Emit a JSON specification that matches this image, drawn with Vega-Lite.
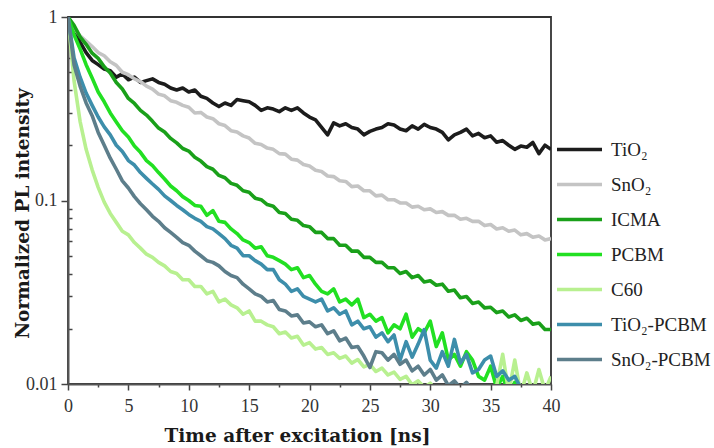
{
"$schema":"https://vega.github.io/schema/vega-lite/v6.json",
"width":483,"height":367,
"autosize":{"type":"none"},
"padding":{"left":68,"top":17,"right":163,"bottom":64},
"config":{"view":{"stroke":"#333","strokeWidth":1.8},"font":"Liberation Serif"},
"datasets":{"d":[
{"s":"TiO₂","t":0,"v":1},{"s":"TiO₂","t":0.5,"v":0.86},{"s":"TiO₂","t":1,"v":0.73},{"s":"TiO₂","t":1.5,"v":0.64},{"s":"TiO₂","t":2,"v":0.58},{"s":"TiO₂","t":2.5,"v":0.55},{"s":"TiO₂","t":3,"v":0.52},{"s":"TiO₂","t":3.5,"v":0.51},{"s":"TiO₂","t":4,"v":0.47},{"s":"TiO₂","t":4.5,"v":0.49},
{"s":"TiO₂","t":5,"v":0.455},{"s":"TiO₂","t":5.5,"v":0.47},{"s":"TiO₂","t":6,"v":0.44},{"s":"TiO₂","t":6.5,"v":0.45},{"s":"TiO₂","t":7,"v":0.46},{"s":"TiO₂","t":7.5,"v":0.44},{"s":"TiO₂","t":8,"v":0.43},{"s":"TiO₂","t":8.5,"v":0.41},{"s":"TiO₂","t":9,"v":0.40},{"s":"TiO₂","t":9.5,"v":0.41},
{"s":"TiO₂","t":10,"v":0.39},{"s":"TiO₂","t":10.5,"v":0.40},{"s":"TiO₂","t":11,"v":0.37},{"s":"TiO₂","t":11.5,"v":0.36},{"s":"TiO₂","t":12,"v":0.34},{"s":"TiO₂","t":12.5,"v":0.325},{"s":"TiO₂","t":13,"v":0.34},{"s":"TiO₂","t":13.5,"v":0.33},{"s":"TiO₂","t":14,"v":0.355},{"s":"TiO₂","t":14.5,"v":0.35},
{"s":"TiO₂","t":15,"v":0.345},{"s":"TiO₂","t":15.5,"v":0.33},{"s":"TiO₂","t":16,"v":0.31},{"s":"TiO₂","t":16.5,"v":0.32},{"s":"TiO₂","t":17,"v":0.315},{"s":"TiO₂","t":17.5,"v":0.305},{"s":"TiO₂","t":18,"v":0.32},{"s":"TiO₂","t":18.5,"v":0.31},{"s":"TiO₂","t":19,"v":0.32},{"s":"TiO₂","t":19.5,"v":0.30},
{"s":"TiO₂","t":20,"v":0.285},{"s":"TiO₂","t":20.5,"v":0.275},{"s":"TiO₂","t":21,"v":0.25},{"s":"TiO₂","t":21.5,"v":0.228},{"s":"TiO₂","t":22,"v":0.265},{"s":"TiO₂","t":22.5,"v":0.255},{"s":"TiO₂","t":23,"v":0.262},{"s":"TiO₂","t":23.5,"v":0.25},{"s":"TiO₂","t":24,"v":0.245},{"s":"TiO₂","t":24.5,"v":0.228},
{"s":"TiO₂","t":25,"v":0.238},{"s":"TiO₂","t":25.5,"v":0.245},{"s":"TiO₂","t":26,"v":0.25},{"s":"TiO₂","t":26.5,"v":0.262},{"s":"TiO₂","t":27,"v":0.258},{"s":"TiO₂","t":27.5,"v":0.245},{"s":"TiO₂","t":28,"v":0.24},{"s":"TiO₂","t":28.5,"v":0.255},{"s":"TiO₂","t":29,"v":0.245},{"s":"TiO₂","t":29.5,"v":0.26},
{"s":"TiO₂","t":30,"v":0.25},{"s":"TiO₂","t":30.5,"v":0.245},{"s":"TiO₂","t":31,"v":0.235},{"s":"TiO₂","t":31.5,"v":0.214},{"s":"TiO₂","t":32,"v":0.228},{"s":"TiO₂","t":32.5,"v":0.235},{"s":"TiO₂","t":33,"v":0.245},{"s":"TiO₂","t":33.5,"v":0.225},{"s":"TiO₂","t":34,"v":0.232},{"s":"TiO₂","t":34.5,"v":0.22},
{"s":"TiO₂","t":35,"v":0.225},{"s":"TiO₂","t":35.5,"v":0.208},{"s":"TiO₂","t":36,"v":0.212},{"s":"TiO₂","t":36.5,"v":0.2},{"s":"TiO₂","t":37,"v":0.19},{"s":"TiO₂","t":37.5,"v":0.198},{"s":"TiO₂","t":38,"v":0.195},{"s":"TiO₂","t":38.5,"v":0.207},{"s":"TiO₂","t":39,"v":0.18},{"s":"TiO₂","t":39.5,"v":0.2},
{"s":"TiO₂","t":40,"v":0.19},
{"s":"SnO₂","t":0,"v":1},{"s":"SnO₂","t":0.5,"v":0.87},{"s":"SnO₂","t":1,"v":0.79},{"s":"SnO₂","t":1.5,"v":0.74},{"s":"SnO₂","t":2,"v":0.69},{"s":"SnO₂","t":2.5,"v":0.64},{"s":"SnO₂","t":3,"v":0.615},{"s":"SnO₂","t":3.5,"v":0.57},{"s":"SnO₂","t":4,"v":0.545},{"s":"SnO₂","t":4.5,"v":0.50},
{"s":"SnO₂","t":5,"v":0.485},{"s":"SnO₂","t":5.5,"v":0.46},{"s":"SnO₂","t":6,"v":0.445},{"s":"SnO₂","t":6.5,"v":0.42},{"s":"SnO₂","t":7,"v":0.405},{"s":"SnO₂","t":7.5,"v":0.38},{"s":"SnO₂","t":8,"v":0.372},{"s":"SnO₂","t":8.5,"v":0.35},{"s":"SnO₂","t":9,"v":0.343},{"s":"SnO₂","t":9.5,"v":0.33},
{"s":"SnO₂","t":10,"v":0.322},{"s":"SnO₂","t":10.5,"v":0.30},{"s":"SnO₂","t":11,"v":0.302},{"s":"SnO₂","t":11.5,"v":0.285},{"s":"SnO₂","t":12,"v":0.279},{"s":"SnO₂","t":12.5,"v":0.262},{"s":"SnO₂","t":13,"v":0.256},{"s":"SnO₂","t":13.5,"v":0.24},{"s":"SnO₂","t":14,"v":0.236},{"s":"SnO₂","t":14.5,"v":0.225},
{"s":"SnO₂","t":15,"v":0.219},{"s":"SnO₂","t":15.5,"v":0.205},{"s":"SnO₂","t":16,"v":0.202},{"s":"SnO₂","t":16.5,"v":0.193},{"s":"SnO₂","t":17,"v":0.19},{"s":"SnO₂","t":17.5,"v":0.18},{"s":"SnO₂","t":18,"v":0.179},{"s":"SnO₂","t":18.5,"v":0.168},{"s":"SnO₂","t":19,"v":0.166},{"s":"SnO₂","t":19.5,"v":0.157},
{"s":"SnO₂","t":20,"v":0.154},{"s":"SnO₂","t":20.5,"v":0.146},{"s":"SnO₂","t":21,"v":0.144},{"s":"SnO₂","t":21.5,"v":0.136},{"s":"SnO₂","t":22,"v":0.135},{"s":"SnO₂","t":22.5,"v":0.128},{"s":"SnO₂","t":23,"v":0.127},{"s":"SnO₂","t":23.5,"v":0.119},{"s":"SnO₂","t":24,"v":0.12},{"s":"SnO₂","t":24.5,"v":0.113},
{"s":"SnO₂","t":25,"v":0.113},{"s":"SnO₂","t":25.5,"v":0.106},{"s":"SnO₂","t":26,"v":0.107},{"s":"SnO₂","t":26.5,"v":0.101},{"s":"SnO₂","t":27,"v":0.101},{"s":"SnO₂","t":27.5,"v":0.097},{"s":"SnO₂","t":28,"v":0.097},{"s":"SnO₂","t":28.5,"v":0.092},{"s":"SnO₂","t":29,"v":0.093},{"s":"SnO₂","t":29.5,"v":0.089},
{"s":"SnO₂","t":30,"v":0.09},{"s":"SnO₂","t":30.5,"v":0.086},{"s":"SnO₂","t":31,"v":0.087},{"s":"SnO₂","t":31.5,"v":0.083},{"s":"SnO₂","t":32,"v":0.083},{"s":"SnO₂","t":32.5,"v":0.079},{"s":"SnO₂","t":33,"v":0.08},{"s":"SnO₂","t":33.5,"v":0.077},{"s":"SnO₂","t":34,"v":0.077},{"s":"SnO₂","t":34.5,"v":0.073},
{"s":"SnO₂","t":35,"v":0.074},{"s":"SnO₂","t":35.5,"v":0.07},{"s":"SnO₂","t":36,"v":0.071},{"s":"SnO₂","t":36.5,"v":0.068},{"s":"SnO₂","t":37,"v":0.069},{"s":"SnO₂","t":37.5,"v":0.065},{"s":"SnO₂","t":38,"v":0.066},{"s":"SnO₂","t":38.5,"v":0.063},{"s":"SnO₂","t":39,"v":0.064},{"s":"SnO₂","t":39.5,"v":0.061},
{"s":"SnO₂","t":40,"v":0.062},
{"s":"ICMA","t":0,"v":1},{"s":"ICMA","t":0.5,"v":0.9},{"s":"ICMA","t":1,"v":0.78},{"s":"ICMA","t":1.5,"v":0.71},{"s":"ICMA","t":2,"v":0.635},{"s":"ICMA","t":2.5,"v":0.595},{"s":"ICMA","t":3,"v":0.535},{"s":"ICMA","t":3.5,"v":0.495},{"s":"ICMA","t":4,"v":0.44},{"s":"ICMA","t":4.5,"v":0.405},
{"s":"ICMA","t":5,"v":0.36},{"s":"ICMA","t":5.5,"v":0.338},{"s":"ICMA","t":6,"v":0.31},{"s":"ICMA","t":6.5,"v":0.292},{"s":"ICMA","t":7,"v":0.27},{"s":"ICMA","t":7.5,"v":0.248},{"s":"ICMA","t":8,"v":0.236},{"s":"ICMA","t":8.5,"v":0.218},{"s":"ICMA","t":9,"v":0.206},{"s":"ICMA","t":9.5,"v":0.192},
{"s":"ICMA","t":10,"v":0.186},{"s":"ICMA","t":10.5,"v":0.172},{"s":"ICMA","t":11,"v":0.164},{"s":"ICMA","t":11.5,"v":0.153},{"s":"ICMA","t":12,"v":0.148},{"s":"ICMA","t":12.5,"v":0.137},{"s":"ICMA","t":13,"v":0.133},{"s":"ICMA","t":13.5,"v":0.124},{"s":"ICMA","t":14,"v":0.121},{"s":"ICMA","t":14.5,"v":0.113},
{"s":"ICMA","t":15,"v":0.111},{"s":"ICMA","t":15.5,"v":0.103},{"s":"ICMA","t":16,"v":0.101},{"s":"ICMA","t":16.5,"v":0.095},{"s":"ICMA","t":17,"v":0.093},{"s":"ICMA","t":17.5,"v":0.086},{"s":"ICMA","t":18,"v":0.085},{"s":"ICMA","t":18.5,"v":0.079},{"s":"ICMA","t":19,"v":0.078},{"s":"ICMA","t":19.5,"v":0.073},
{"s":"ICMA","t":20,"v":0.072},{"s":"ICMA","t":20.5,"v":0.067},{"s":"ICMA","t":21,"v":0.067},{"s":"ICMA","t":21.5,"v":0.062},{"s":"ICMA","t":22,"v":0.062},{"s":"ICMA","t":22.5,"v":0.057},{"s":"ICMA","t":23,"v":0.057},{"s":"ICMA","t":23.5,"v":0.053},{"s":"ICMA","t":24,"v":0.053},{"s":"ICMA","t":24.5,"v":0.049},
{"s":"ICMA","t":25,"v":0.049},{"s":"ICMA","t":25.5,"v":0.046},{"s":"ICMA","t":26,"v":0.046},{"s":"ICMA","t":26.5,"v":0.043},{"s":"ICMA","t":27,"v":0.043},{"s":"ICMA","t":27.5,"v":0.04},{"s":"ICMA","t":28,"v":0.041},{"s":"ICMA","t":28.5,"v":0.038},{"s":"ICMA","t":29,"v":0.039},{"s":"ICMA","t":29.5,"v":0.036},
{"s":"ICMA","t":30,"v":0.0365},{"s":"ICMA","t":30.5,"v":0.0345},{"s":"ICMA","t":31,"v":0.035},{"s":"ICMA","t":31.5,"v":0.032},{"s":"ICMA","t":32,"v":0.0325},{"s":"ICMA","t":32.5,"v":0.0295},{"s":"ICMA","t":33,"v":0.03},{"s":"ICMA","t":33.5,"v":0.0275},{"s":"ICMA","t":34,"v":0.028},{"s":"ICMA","t":34.5,"v":0.026},
{"s":"ICMA","t":35,"v":0.0262},{"s":"ICMA","t":35.5,"v":0.0245},{"s":"ICMA","t":36,"v":0.025},{"s":"ICMA","t":36.5,"v":0.0232},{"s":"ICMA","t":37,"v":0.0238},{"s":"ICMA","t":37.5,"v":0.0222},{"s":"ICMA","t":38,"v":0.0228},{"s":"ICMA","t":38.5,"v":0.0212},{"s":"ICMA","t":39,"v":0.0215},{"s":"ICMA","t":39.5,"v":0.0198},
{"s":"ICMA","t":40,"v":0.0198},
{"s":"PCBM","t":0,"v":1},{"s":"PCBM","t":0.5,"v":0.8},{"s":"PCBM","t":1,"v":0.67},{"s":"PCBM","t":1.5,"v":0.55},{"s":"PCBM","t":2,"v":0.465},{"s":"PCBM","t":2.5,"v":0.39},{"s":"PCBM","t":3,"v":0.345},{"s":"PCBM","t":3.5,"v":0.3},{"s":"PCBM","t":4,"v":0.268},{"s":"PCBM","t":4.5,"v":0.24},
{"s":"PCBM","t":5,"v":0.222},{"s":"PCBM","t":5.5,"v":0.198},{"s":"PCBM","t":6,"v":0.183},{"s":"PCBM","t":6.5,"v":0.165},{"s":"PCBM","t":7,"v":0.155},{"s":"PCBM","t":7.5,"v":0.142},{"s":"PCBM","t":8,"v":0.131},{"s":"PCBM","t":8.5,"v":0.12},{"s":"PCBM","t":9,"v":0.113},{"s":"PCBM","t":9.5,"v":0.105},
{"s":"PCBM","t":10,"v":0.1},{"s":"PCBM","t":10.5,"v":0.094},{"s":"PCBM","t":11,"v":0.093},{"s":"PCBM","t":11.5,"v":0.083},{"s":"PCBM","t":12,"v":0.088},{"s":"PCBM","t":12.5,"v":0.077},{"s":"PCBM","t":13,"v":0.076},{"s":"PCBM","t":13.5,"v":0.07},{"s":"PCBM","t":14,"v":0.066},{"s":"PCBM","t":14.5,"v":0.061},
{"s":"PCBM","t":15,"v":0.059},{"s":"PCBM","t":15.5,"v":0.055},{"s":"PCBM","t":16,"v":0.056},{"s":"PCBM","t":16.5,"v":0.05},{"s":"PCBM","t":17,"v":0.049},{"s":"PCBM","t":17.5,"v":0.047},{"s":"PCBM","t":18,"v":0.045},{"s":"PCBM","t":18.5,"v":0.042},{"s":"PCBM","t":19,"v":0.043},{"s":"PCBM","t":19.5,"v":0.038},
{"s":"PCBM","t":20,"v":0.039},{"s":"PCBM","t":20.5,"v":0.035},{"s":"PCBM","t":21,"v":0.032},{"s":"PCBM","t":21.5,"v":0.031},{"s":"PCBM","t":22,"v":0.033},{"s":"PCBM","t":22.5,"v":0.028},{"s":"PCBM","t":23,"v":0.029},{"s":"PCBM","t":23.5,"v":0.027},{"s":"PCBM","t":24,"v":0.029},{"s":"PCBM","t":24.5,"v":0.023},
{"s":"PCBM","t":25,"v":0.024},{"s":"PCBM","t":25.5,"v":0.022},{"s":"PCBM","t":26,"v":0.023},{"s":"PCBM","t":26.5,"v":0.019},{"s":"PCBM","t":27,"v":0.021},{"s":"PCBM","t":27.5,"v":0.02},{"s":"PCBM","t":28,"v":0.024},{"s":"PCBM","t":28.5,"v":0.018},{"s":"PCBM","t":29,"v":0.02},{"s":"PCBM","t":29.5,"v":0.019},
{"s":"PCBM","t":30,"v":0.022},{"s":"PCBM","t":30.5,"v":0.016},{"s":"PCBM","t":31,"v":0.019},{"s":"PCBM","t":31.5,"v":0.0135},{"s":"PCBM","t":32,"v":0.0145},{"s":"PCBM","t":32.5,"v":0.0125},{"s":"PCBM","t":33,"v":0.015},{"s":"PCBM","t":33.5,"v":0.0135},{"s":"PCBM","t":34,"v":0.011},{"s":"PCBM","t":34.5,"v":0.0105},
{"s":"PCBM","t":35,"v":0.0125},{"s":"PCBM","t":35.5,"v":0.0095},{"s":"PCBM","t":36,"v":0.011},{"s":"PCBM","t":36.5,"v":0.0088},{"s":"PCBM","t":37,"v":0.0102},{"s":"PCBM","t":37.5,"v":0.0085},{"s":"PCBM","t":38,"v":0.0082},{"s":"PCBM","t":38.5,"v":0.008},{"s":"PCBM","t":39,"v":0.0078},{"s":"PCBM","t":39.5,"v":0.0076},
{"s":"PCBM","t":40,"v":0.0074},
{"s":"C60","t":0,"v":1},{"s":"C60","t":0.5,"v":0.45},{"s":"C60","t":1,"v":0.27},{"s":"C60","t":1.5,"v":0.19},{"s":"C60","t":2,"v":0.147},{"s":"C60","t":2.5,"v":0.118},{"s":"C60","t":3,"v":0.098},{"s":"C60","t":3.5,"v":0.085},{"s":"C60","t":4,"v":0.076},{"s":"C60","t":4.5,"v":0.068},
{"s":"C60","t":5,"v":0.065},{"s":"C60","t":5.5,"v":0.059},{"s":"C60","t":6,"v":0.055},{"s":"C60","t":6.5,"v":0.051},{"s":"C60","t":7,"v":0.049},{"s":"C60","t":7.5,"v":0.046},{"s":"C60","t":8,"v":0.044},{"s":"C60","t":8.5,"v":0.041},{"s":"C60","t":9,"v":0.04},{"s":"C60","t":9.5,"v":0.037},
{"s":"C60","t":10,"v":0.037},{"s":"C60","t":10.5,"v":0.034},{"s":"C60","t":11,"v":0.034},{"s":"C60","t":11.5,"v":0.031},{"s":"C60","t":12,"v":0.032},{"s":"C60","t":12.5,"v":0.028},{"s":"C60","t":13,"v":0.029},{"s":"C60","t":13.5,"v":0.027},{"s":"C60","t":14,"v":0.026},{"s":"C60","t":14.5,"v":0.024},
{"s":"C60","t":15,"v":0.025},{"s":"C60","t":15.5,"v":0.022},{"s":"C60","t":16,"v":0.022},{"s":"C60","t":16.5,"v":0.021},{"s":"C60","t":17,"v":0.0205},{"s":"C60","t":17.5,"v":0.0188},{"s":"C60","t":18,"v":0.0192},{"s":"C60","t":18.5,"v":0.0178},{"s":"C60","t":19,"v":0.0182},{"s":"C60","t":19.5,"v":0.0163},
{"s":"C60","t":20,"v":0.0168},{"s":"C60","t":20.5,"v":0.0155},{"s":"C60","t":21,"v":0.0158},{"s":"C60","t":21.5,"v":0.0145},{"s":"C60","t":22,"v":0.0148},{"s":"C60","t":22.5,"v":0.0138},{"s":"C60","t":23,"v":0.0142},{"s":"C60","t":23.5,"v":0.013},{"s":"C60","t":24,"v":0.0136},{"s":"C60","t":24.5,"v":0.0124},
{"s":"C60","t":25,"v":0.0128},{"s":"C60","t":25.5,"v":0.0117},{"s":"C60","t":26,"v":0.0122},{"s":"C60","t":26.5,"v":0.0112},{"s":"C60","t":27,"v":0.0116},{"s":"C60","t":27.5,"v":0.0106},{"s":"C60","t":28,"v":0.011},{"s":"C60","t":28.5,"v":0.0099},{"s":"C60","t":29,"v":0.0104},{"s":"C60","t":29.5,"v":0.0096},
{"s":"C60","t":30,"v":0.0101},{"s":"C60","t":30.5,"v":0.0092},{"s":"C60","t":31,"v":0.0097},{"s":"C60","t":31.5,"v":0.009},{"s":"C60","t":32,"v":0.0094},{"s":"C60","t":32.5,"v":0.0088},{"s":"C60","t":33,"v":0.0092},{"s":"C60","t":33.5,"v":0.0088},{"s":"C60","t":34,"v":0.009},{"s":"C60","t":34.5,"v":0.0086},
{"s":"C60","t":35,"v":0.0095},{"s":"C60","t":35.5,"v":0.0098},{"s":"C60","t":36,"v":0.0145},{"s":"C60","t":36.5,"v":0.009},{"s":"C60","t":37,"v":0.0135},{"s":"C60","t":37.5,"v":0.0088},{"s":"C60","t":38,"v":0.0115},{"s":"C60","t":38.5,"v":0.009},{"s":"C60","t":39,"v":0.012},{"s":"C60","t":39.5,"v":0.0092},
{"s":"C60","t":40,"v":0.011},
{"s":"TiO₂-PCBM","t":0,"v":1},{"s":"TiO₂-PCBM","t":0.5,"v":0.6},{"s":"TiO₂-PCBM","t":1,"v":0.47},{"s":"TiO₂-PCBM","t":1.5,"v":0.385},{"s":"TiO₂-PCBM","t":2,"v":0.33},{"s":"TiO₂-PCBM","t":2.5,"v":0.285},{"s":"TiO₂-PCBM","t":3,"v":0.252},{"s":"TiO₂-PCBM","t":3.5,"v":0.228},{"s":"TiO₂-PCBM","t":4,"v":0.2},{"s":"TiO₂-PCBM","t":4.5,"v":0.185},
{"s":"TiO₂-PCBM","t":5,"v":0.165},{"s":"TiO₂-PCBM","t":5.5,"v":0.156},{"s":"TiO₂-PCBM","t":6,"v":0.142},{"s":"TiO₂-PCBM","t":6.5,"v":0.132},{"s":"TiO₂-PCBM","t":7,"v":0.123},{"s":"TiO₂-PCBM","t":7.5,"v":0.115},{"s":"TiO₂-PCBM","t":8,"v":0.106},{"s":"TiO₂-PCBM","t":8.5,"v":0.1},{"s":"TiO₂-PCBM","t":9,"v":0.094},{"s":"TiO₂-PCBM","t":9.5,"v":0.089},
{"s":"TiO₂-PCBM","t":10,"v":0.084},{"s":"TiO₂-PCBM","t":10.5,"v":0.08},{"s":"TiO₂-PCBM","t":11,"v":0.077},{"s":"TiO₂-PCBM","t":11.5,"v":0.072},{"s":"TiO₂-PCBM","t":12,"v":0.07},{"s":"TiO₂-PCBM","t":12.5,"v":0.066},{"s":"TiO₂-PCBM","t":13,"v":0.062},{"s":"TiO₂-PCBM","t":13.5,"v":0.057},{"s":"TiO₂-PCBM","t":14,"v":0.055},{"s":"TiO₂-PCBM","t":14.5,"v":0.05},
{"s":"TiO₂-PCBM","t":15,"v":0.05},{"s":"TiO₂-PCBM","t":15.5,"v":0.047},{"s":"TiO₂-PCBM","t":16,"v":0.045},{"s":"TiO₂-PCBM","t":16.5,"v":0.042},{"s":"TiO₂-PCBM","t":17,"v":0.042},{"s":"TiO₂-PCBM","t":17.5,"v":0.037},{"s":"TiO₂-PCBM","t":18,"v":0.035},{"s":"TiO₂-PCBM","t":18.5,"v":0.032},{"s":"TiO₂-PCBM","t":19,"v":0.033},{"s":"TiO₂-PCBM","t":19.5,"v":0.03},
{"s":"TiO₂-PCBM","t":20,"v":0.029},{"s":"TiO₂-PCBM","t":20.5,"v":0.028},{"s":"TiO₂-PCBM","t":21,"v":0.029},{"s":"TiO₂-PCBM","t":21.5,"v":0.025},{"s":"TiO₂-PCBM","t":22,"v":0.026},{"s":"TiO₂-PCBM","t":22.5,"v":0.024},{"s":"TiO₂-PCBM","t":23,"v":0.025},{"s":"TiO₂-PCBM","t":23.5,"v":0.021},{"s":"TiO₂-PCBM","t":24,"v":0.022},{"s":"TiO₂-PCBM","t":24.5,"v":0.02},
{"s":"TiO₂-PCBM","t":25,"v":0.0205},{"s":"TiO₂-PCBM","t":25.5,"v":0.018},{"s":"TiO₂-PCBM","t":26,"v":0.019},{"s":"TiO₂-PCBM","t":26.5,"v":0.017},{"s":"TiO₂-PCBM","t":27,"v":0.0185},{"s":"TiO₂-PCBM","t":27.5,"v":0.0135},{"s":"TiO₂-PCBM","t":28,"v":0.017},{"s":"TiO₂-PCBM","t":28.5,"v":0.014},{"s":"TiO₂-PCBM","t":29,"v":0.0165},{"s":"TiO₂-PCBM","t":29.5,"v":0.0198},
{"s":"TiO₂-PCBM","t":30,"v":0.0135},{"s":"TiO₂-PCBM","t":30.5,"v":0.0122},{"s":"TiO₂-PCBM","t":31,"v":0.015},{"s":"TiO₂-PCBM","t":31.5,"v":0.0125},{"s":"TiO₂-PCBM","t":32,"v":0.0175},{"s":"TiO₂-PCBM","t":32.5,"v":0.013},{"s":"TiO₂-PCBM","t":33,"v":0.0145},{"s":"TiO₂-PCBM","t":33.5,"v":0.0115},{"s":"TiO₂-PCBM","t":34,"v":0.012},{"s":"TiO₂-PCBM","t":34.5,"v":0.0135},
{"s":"TiO₂-PCBM","t":35,"v":0.0142},{"s":"TiO₂-PCBM","t":35.5,"v":0.011},{"s":"TiO₂-PCBM","t":36,"v":0.0118},{"s":"TiO₂-PCBM","t":36.5,"v":0.0105},{"s":"TiO₂-PCBM","t":37,"v":0.011},{"s":"TiO₂-PCBM","t":37.5,"v":0.0095},{"s":"TiO₂-PCBM","t":38,"v":0.0085},{"s":"TiO₂-PCBM","t":38.5,"v":0.0082},{"s":"TiO₂-PCBM","t":39,"v":0.008},{"s":"TiO₂-PCBM","t":39.5,"v":0.0078},
{"s":"TiO₂-PCBM","t":40,"v":0.0076},
{"s":"SnO₂-PCBM","t":0,"v":1},{"s":"SnO₂-PCBM","t":0.5,"v":0.55},{"s":"SnO₂-PCBM","t":1,"v":0.42},{"s":"SnO₂-PCBM","t":1.5,"v":0.34},{"s":"SnO₂-PCBM","t":2,"v":0.29},{"s":"SnO₂-PCBM","t":2.5,"v":0.235},{"s":"SnO₂-PCBM","t":3,"v":0.2},{"s":"SnO₂-PCBM","t":3.5,"v":0.17},{"s":"SnO₂-PCBM","t":4,"v":0.148},{"s":"SnO₂-PCBM","t":4.5,"v":0.128},
{"s":"SnO₂-PCBM","t":5,"v":0.117},{"s":"SnO₂-PCBM","t":5.5,"v":0.105},{"s":"SnO₂-PCBM","t":6,"v":0.096},{"s":"SnO₂-PCBM","t":6.5,"v":0.089},{"s":"SnO₂-PCBM","t":7,"v":0.082},{"s":"SnO₂-PCBM","t":7.5,"v":0.077},{"s":"SnO₂-PCBM","t":8,"v":0.071},{"s":"SnO₂-PCBM","t":8.5,"v":0.067},{"s":"SnO₂-PCBM","t":9,"v":0.063},{"s":"SnO₂-PCBM","t":9.5,"v":0.059},
{"s":"SnO₂-PCBM","t":10,"v":0.057},{"s":"SnO₂-PCBM","t":10.5,"v":0.053},{"s":"SnO₂-PCBM","t":11,"v":0.05},{"s":"SnO₂-PCBM","t":11.5,"v":0.047},{"s":"SnO₂-PCBM","t":12,"v":0.046},{"s":"SnO₂-PCBM","t":12.5,"v":0.044},{"s":"SnO₂-PCBM","t":13,"v":0.041},{"s":"SnO₂-PCBM","t":13.5,"v":0.039},{"s":"SnO₂-PCBM","t":14,"v":0.038},{"s":"SnO₂-PCBM","t":14.5,"v":0.035},
{"s":"SnO₂-PCBM","t":15,"v":0.033},{"s":"SnO₂-PCBM","t":15.5,"v":0.031},{"s":"SnO₂-PCBM","t":16,"v":0.03},{"s":"SnO₂-PCBM","t":16.5,"v":0.028},{"s":"SnO₂-PCBM","t":17,"v":0.0285},{"s":"SnO₂-PCBM","t":17.5,"v":0.0255},{"s":"SnO₂-PCBM","t":18,"v":0.025},{"s":"SnO₂-PCBM","t":18.5,"v":0.0235},{"s":"SnO₂-PCBM","t":19,"v":0.0238},{"s":"SnO₂-PCBM","t":19.5,"v":0.0215},
{"s":"SnO₂-PCBM","t":20,"v":0.0218},{"s":"SnO₂-PCBM","t":20.5,"v":0.0205},{"s":"SnO₂-PCBM","t":21,"v":0.021},{"s":"SnO₂-PCBM","t":21.5,"v":0.0188},{"s":"SnO₂-PCBM","t":22,"v":0.0195},{"s":"SnO₂-PCBM","t":22.5,"v":0.0172},{"s":"SnO₂-PCBM","t":23,"v":0.0178},{"s":"SnO₂-PCBM","t":23.5,"v":0.0158},{"s":"SnO₂-PCBM","t":24,"v":0.016},{"s":"SnO₂-PCBM","t":24.5,"v":0.0142},
{"s":"SnO₂-PCBM","t":25,"v":0.0123},{"s":"SnO₂-PCBM","t":25.5,"v":0.015},{"s":"SnO₂-PCBM","t":26,"v":0.0148},{"s":"SnO₂-PCBM","t":26.5,"v":0.0135},{"s":"SnO₂-PCBM","t":27,"v":0.0145},{"s":"SnO₂-PCBM","t":27.5,"v":0.0128},{"s":"SnO₂-PCBM","t":28,"v":0.0135},{"s":"SnO₂-PCBM","t":28.5,"v":0.0118},{"s":"SnO₂-PCBM","t":29,"v":0.0125},{"s":"SnO₂-PCBM","t":29.5,"v":0.0112},
{"s":"SnO₂-PCBM","t":30,"v":0.012},{"s":"SnO₂-PCBM","t":30.5,"v":0.0105},{"s":"SnO₂-PCBM","t":31,"v":0.0112},{"s":"SnO₂-PCBM","t":31.5,"v":0.0098},{"s":"SnO₂-PCBM","t":32,"v":0.0104},{"s":"SnO₂-PCBM","t":32.5,"v":0.0095},{"s":"SnO₂-PCBM","t":33,"v":0.0102},{"s":"SnO₂-PCBM","t":33.5,"v":0.0092},{"s":"SnO₂-PCBM","t":34,"v":0.0088},{"s":"SnO₂-PCBM","t":34.5,"v":0.0086},
{"s":"SnO₂-PCBM","t":35,"v":0.0085},{"s":"SnO₂-PCBM","t":35.5,"v":0.0084},{"s":"SnO₂-PCBM","t":36,"v":0.0083},{"s":"SnO₂-PCBM","t":36.5,"v":0.0082},{"s":"SnO₂-PCBM","t":37,"v":0.0081},{"s":"SnO₂-PCBM","t":37.5,"v":0.008},{"s":"SnO₂-PCBM","t":38,"v":0.0079},{"s":"SnO₂-PCBM","t":38.5,"v":0.0078},{"s":"SnO₂-PCBM","t":39,"v":0.0077},{"s":"SnO₂-PCBM","t":39.5,"v":0.0076},
{"s":"SnO₂-PCBM","t":40,"v":0.0075}
]},
"data":{"name":"d"},
"mark":{"type":"line","strokeWidth":3.6,"clip":true,"strokeJoin":"round"},
"encoding":{
  "x":{"field":"t","type":"quantitative","scale":{"domain":[0,40],"nice":false,"zero":false},
   "axis":{"values":[0,2.5,5,7.5,10,12.5,15,17.5,20,22.5,25,27.5,30,32.5,35,37.5,40],"labelExpr":"datum.value % 5 == 0 ? datum.label : ''","grid":false,
    "tickSize":{"condition":{"test":"datum.value % 5 == 0","value":6},"value":3},"tickWidth":1.5,"tickColor":"#444","domainColor":"#555","domainWidth":2,"labelFontSize":18,"labelColor":"#333","labelPadding":7,"labelFont":"Liberation Serif","labelOverlap":false,"labelBound":false,"labelFlush":false,
    "title":"Time after excitation [ns]","titleFont":"DejaVu Serif","titleFontSize":18.5,"titleFontWeight":"bold","titleColor":"#1a1a1a","titleX":229,"titleY":57,"titleBaseline":"alphabetic"}},
  "y":{"field":"v","type":"quantitative","scale":{"type":"log","domain":[0.01,1],"nice":false},
   "axis":{"values":[0.01,0.02,0.03,0.04,0.05,0.06,0.07,0.08,0.09,0.1,0.2,0.3,0.4,0.5,0.6,0.7,0.8,0.9,1],"format":"~g","labelExpr":"(datum.value == 1 || datum.value == 0.1 || datum.value == 0.01) ? datum.label : ''","grid":false,
    "tickSize":{"condition":{"test":"datum.value == 1 || datum.value == 0.1 || datum.value == 0.01","value":7},"value":-4},"tickWidth":1.5,"tickColor":"#444","domainColor":"#555","domainWidth":2,"labelFontSize":18,"labelColor":"#333","labelPadding":4,"labelFont":"Liberation Serif","labelOverlap":false,"labelBound":false,"labelFlush":false,
    "title":"Normalized PL intensity","titleFont":"DejaVu Serif","titleFontSize":18.5,"titleFontWeight":"bold","titleColor":"#1a1a1a","titleX":-40,"titleY":196,"titleBaseline":"alphabetic"}},
  "color":{"field":"s","type":"nominal",
   "scale":{"domain":["TiO₂","SnO₂","ICMA","PCBM","C60","TiO₂-PCBM","SnO₂-PCBM"],"range":["#1c1c1c","#c4c4c4","#1aa01a","#22e022","#b8f090","#3d8eab","#5d7e8b"]},
   "legend":{"orient":"none","legendX":487,"legendY":108,"title":null,"symbolType":"stroke","symbolSize":2025,"symbolStrokeWidth":3.5,"labelFontSize":19,"labelFont":"Liberation Serif","labelColor":"#222","labelOffset":7,"rowPadding":-3.2}}
}
}
